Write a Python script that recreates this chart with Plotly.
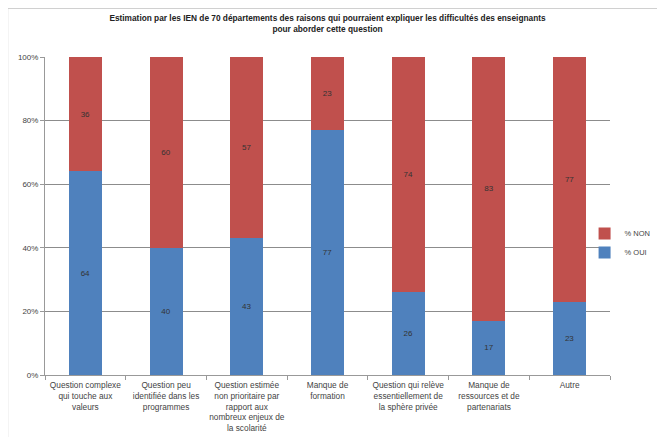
import plotly.graph_objects as go

categories = [
    "Question complexe qui touche aux valeurs",
    "Question peu identifiée dans les programmes",
    "Question estimée non prioritaire par rapport aux nombreux enjeux de la scolarité",
    "Manque de formation",
    "Question qui relève essentiellement de la sphère privée",
    "Manque de ressources et de partenariats",
    "Autre",
]
tick_labels = [
    "Question complexe<br>qui touche aux<br>valeurs",
    "Question peu<br>identifiée dans les<br>programmes",
    "Question estimée<br>non prioritaire par<br>rapport aux<br>nombreux enjeux de<br>la scolarité",
    "Manque de<br>formation",
    "Question qui relève<br>essentiellement de<br>la sphère privée",
    "Manque de<br>ressources et de<br>partenariats",
    "Autre",
]
oui = [64, 40, 43, 77, 26, 17, 23]
non = [36, 60, 57, 23, 74, 83, 77]
y_ticks = [0, 20, 40, 60, 80, 100]
y_tick_text = ["0%", "20%", "40%", "60%", "80%", "100%"]

FONT = "Liberation Sans"
BLUE = "#4F81BD"
RED = "#C0504D"

fig = go.Figure()
fig.add_trace(go.Bar(
    x=categories, y=oui, name="% OUI", marker=dict(color=BLUE, line=dict(width=0)),
    text=oui, textposition="inside", insidetextanchor="middle",
    textfont=dict(size=8, color="#333333", family=FONT), width=0.41,
))
fig.add_trace(go.Bar(
    x=categories, y=non, name="% NON", marker=dict(color=RED, line=dict(width=0)),
    text=non, textposition="inside", insidetextanchor="middle",
    textfont=dict(size=8, color="#333333", family=FONT), width=0.41,
))

fig.update_layout(
    barmode="stack",
    width=665, height=437,
    margin=dict(l=37, r=63, t=49, b=70, autoexpand=False),
    paper_bgcolor="white", plot_bgcolor="white",
    font=dict(family=FONT, size=8, color="#444444"),
    title=dict(
        text="<b>Estimation par les IEN de 70 départements des raisons qui pourraient expliquer les difficultés des enseignants<br>pour aborder cette question</b>",
        x=0.5, xanchor="center", y=0.97, yanchor="top",
        font=dict(family=FONT, size=8.3, color="#222222"),
        xref="paper",
    ),
    legend=dict(
        x=0.955, y=0.415, xanchor="left", yanchor="middle",
        traceorder="reversed", font=dict(size=7.5, color="#444444"),
        itemwidth=30, bgcolor="rgba(0,0,0,0)", tracegroupgap=2,
    ),
    showlegend=True,
    uniformtext=dict(mode="show", minsize=6),
)
fig.update_xaxes(
    tickmode="array", tickvals=categories, ticktext=tick_labels,
    tickangle=0, showline=True, linecolor="#999999", linewidth=1,
    ticks="outside", tickson="boundaries", ticklen=4, tickcolor="#999999",
    ticklabelstandoff=2,
    tickfont=dict(size=8.3, color="#444444"), showgrid=False, automargin=False,
)
fig.update_yaxes(
    range=[0, 100], tickmode="array", tickvals=y_ticks, ticktext=y_tick_text,
    showgrid=True, gridcolor="#8c8c8c", gridwidth=1,
    showline=True, linecolor="#999999", linewidth=1,
    ticks="outside", ticklen=4, tickcolor="#999999",
    tickfont=dict(size=8, color="#444444"), zeroline=False, automargin=False,
)
fig.add_shape(
    type="rect", xref="paper", yref="paper",
    x0=-0.066, x1=1.088, y0=-0.3, y1=1.153,
    line=dict(color="#c8c8c8", width=1), fillcolor="rgba(0,0,0,0)", layer="below",
)

fig.write_html("out.html")
